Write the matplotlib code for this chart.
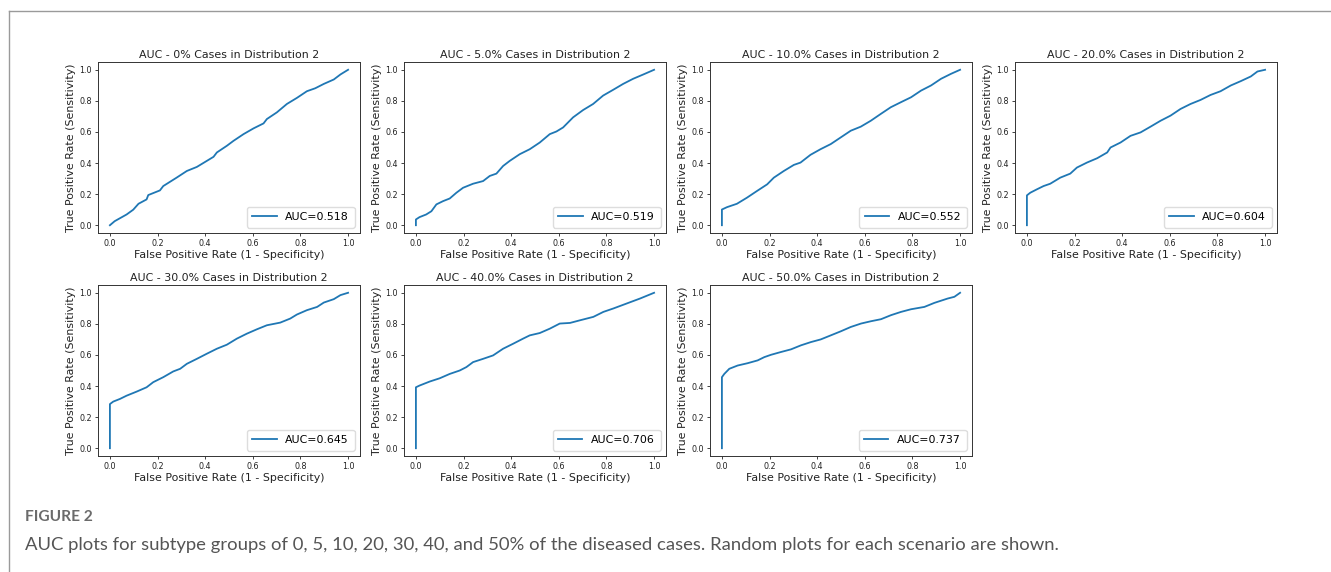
import numpy as np
import matplotlib
matplotlib.use("Agg")
import matplotlib.pyplot as plt
from matplotlib.lines import Line2D

# panel titles / AUC labels
titles = ["AUC - 0% Cases in Distribution 2",
          "AUC - 5.0% Cases in Distribution 2",
          "AUC - 10.0% Cases in Distribution 2",
          "AUC - 20.0% Cases in Distribution 2",
          "AUC - 30.0% Cases in Distribution 2",
          "AUC - 40.0% Cases in Distribution 2",
          "AUC - 50.0% Cases in Distribution 2"]
auc_vals = [0.518, 0.519, 0.552, 0.604, 0.645, 0.706, 0.737]

# ROC curves (fpr, tpr)
fpr_0 = [0, 0.02, 0.07, 0.098, 0.12, 0.154, 0.161, 0.21, 0.224, 0.28, 0.323, 0.365, 0.407,
         0.435, 0.449, 0.491, 0.519, 0.561, 0.603, 0.645, 0.659, 0.701, 0.743, 0.785, 0.827,
         0.862, 0.898, 0.94, 0.968, 1.0]
tpr_0 = [0, 0.026, 0.069, 0.10, 0.138, 0.166, 0.194, 0.224, 0.252, 0.306, 0.349, 0.375, 0.414,
         0.44, 0.468, 0.511, 0.543, 0.586, 0.623, 0.655, 0.683, 0.726, 0.78, 0.819, 0.862,
         0.881, 0.909, 0.9375, 0.97, 1.0]

fpr_5 = [0, 0, 0.015, 0.043, 0.065, 0.086, 0.114, 0.142, 0.17, 0.198, 0.24, 0.282, 0.31, 0.338,
         0.366, 0.394, 0.436, 0.478, 0.52, 0.562, 0.59, 0.618, 0.66, 0.702, 0.744, 0.786, 0.828,
         0.87, 0.912, 0.955, 1.0]
tpr_5 = [0, 0.037, 0.052, 0.069, 0.09, 0.134, 0.155, 0.172, 0.209, 0.241, 0.267, 0.284, 0.317,
         0.332, 0.381, 0.414, 0.457, 0.489, 0.532, 0.586, 0.603, 0.629, 0.694, 0.741, 0.78, 0.834,
         0.871, 0.909, 0.942, 0.97, 1.0]

fpr_10 = [0, 0, 0.021, 0.063, 0.105, 0.147, 0.19, 0.218, 0.26, 0.302, 0.33, 0.372, 0.414, 0.457,
          0.499, 0.541, 0.583, 0.625, 0.667, 0.709, 0.751, 0.794, 0.836, 0.878, 0.92, 0.962, 1.0]
tpr_10 = [0, 0.101, 0.116, 0.138, 0.177, 0.22, 0.263, 0.306, 0.349, 0.388, 0.403, 0.453, 0.489,
          0.522, 0.565, 0.608, 0.634, 0.672, 0.716, 0.759, 0.791, 0.823, 0.866, 0.899, 0.942,
          0.974, 1.0]

fpr_20 = [0, 0, 0.014, 0.042, 0.07, 0.098, 0.14, 0.182, 0.21, 0.252, 0.295, 0.337, 0.351, 0.393,
          0.435, 0.477, 0.519, 0.561, 0.603, 0.645, 0.687, 0.729, 0.771, 0.813, 0.856, 0.898,
          0.94, 0.968, 1.0]
tpr_20 = [0, 0.192, 0.209, 0.231, 0.252, 0.267, 0.306, 0.332, 0.371, 0.403, 0.431, 0.468, 0.5,
          0.532, 0.575, 0.597, 0.634, 0.672, 0.705, 0.748, 0.78, 0.806, 0.838, 0.862, 0.899,
          0.927, 0.957, 0.989, 1.0]

fpr_30 = [0, 0, 0.014, 0.042, 0.07, 0.112, 0.154, 0.182, 0.224, 0.266, 0.295, 0.323, 0.365, 0.407,
          0.449, 0.491, 0.533, 0.575, 0.617, 0.659, 0.715, 0.757, 0.785, 0.827, 0.87, 0.898,
          0.94, 0.968, 1.0]
tpr_30 = [0, 0.284, 0.3, 0.317, 0.338, 0.364, 0.392, 0.425, 0.457, 0.494, 0.511, 0.543, 0.575,
          0.608, 0.64, 0.666, 0.705, 0.737, 0.765, 0.791, 0.808, 0.834, 0.86, 0.888, 0.909,
          0.937, 0.959, 0.985, 1.0]

fpr_40 = [0, 0, 0.015, 0.058, 0.1, 0.142, 0.184, 0.212, 0.24, 0.282, 0.324, 0.366, 0.408, 0.45,
          0.478, 0.52, 0.562, 0.604, 0.647, 0.689, 0.745, 0.787, 0.829, 0.885, 0.941, 1.0]
tpr_40 = [0, 0.392, 0.403, 0.429, 0.45, 0.478, 0.5, 0.522, 0.554, 0.575, 0.597, 0.64, 0.672,
          0.705, 0.726, 0.741, 0.769, 0.802, 0.806, 0.823, 0.845, 0.877, 0.899, 0.931, 0.963, 1.0]

fpr_50 = [0, 0, 0.01, 0.031, 0.066, 0.108, 0.15, 0.178, 0.206, 0.248, 0.29, 0.332, 0.374, 0.415,
          0.457, 0.499, 0.541, 0.584, 0.626, 0.668, 0.71, 0.752, 0.794, 0.85, 0.892, 0.948,
          0.976, 1.0]
tpr_50 = [0, 0.457, 0.478, 0.511, 0.532, 0.547, 0.565, 0.586, 0.601, 0.619, 0.636, 0.662, 0.683,
          0.7, 0.726, 0.752, 0.78, 0.802, 0.817, 0.83, 0.856, 0.877, 0.894, 0.909, 0.935, 0.963,
          0.974, 1.0]

fprs = [fpr_0, fpr_5, fpr_10, fpr_20, fpr_30, fpr_40, fpr_50]
tprs = [tpr_0, tpr_5, tpr_10, tpr_20, tpr_30, tpr_40, tpr_50]

caption_head = "FIGURE 2"
caption = ("AUC plots for subtype groups of 0, 5, 10, 20, 30, 40, and 50% of the diseased cases. "
           "Random plots for each scenario are shown.")

W, H = 1331, 572
fig = plt.figure(figsize=(W / 100, H / 100), dpi=100)

# page frame (top and left rule)
fig.add_artist(Line2D([9 / W, 1], [1 - 11 / H, 1 - 11 / H], color="#9a9a9a", lw=1.0))
fig.add_artist(Line2D([9 / W, 9 / W], [0, 1 - 11 / H], color="#9a9a9a", lw=1.0))

lefts = [98, 404, 710, 1015]
row_tops = [62, 285]
ax_w, ax_h = 262, 171

for i in range(7):
    r, c = divmod(i, 4)
    x0 = lefts[c] / W
    y0 = 1 - (row_tops[r] + ax_h) / H
    ax = fig.add_axes([x0, y0, ax_w / W, ax_h / H])
    ax.plot(fprs[i], tprs[i], color="#1f77b4", lw=1.3, label=f"AUC={auc_vals[i]}")
    ax.set_xlim(-0.05, 1.05)
    ax.set_ylim(-0.05, 1.05)
    ax.set_xticks([0, 0.2, 0.4, 0.6, 0.8, 1.0])
    ax.set_yticks([0, 0.2, 0.4, 0.6, 0.8, 1.0])
    ax.tick_params(labelsize=5.8, length=2.5, width=0.6, pad=2, colors="#222222")
    for s in ax.spines.values():
        s.set_linewidth(0.7)
        s.set_color("#333333")
    ax.set_title(titles[i], fontsize=7.9, pad=3, color="#222222")
    ax.set_xlabel("False Positive Rate (1 - Specificity)", fontsize=7.9, labelpad=1.5,
                  color="#222222")
    ax.set_ylabel("True Positive Rate (Sensitivity)", fontsize=7.9, labelpad=2,
                  color="#222222")
    ax.legend(loc="lower right", fontsize=7.9, handlelength=2.2, borderpad=0.5,
              framealpha=1, edgecolor="#dddddd", fancybox=True)

fig.text(25 / W, 1 - 517 / H, caption_head, fontsize=11.2, color="#6b6b6b",
         family="Lato", weight="bold", va="center", ha="left")
fig.text(25 / W, 1 - 545 / H, caption, fontsize=13.3, color="#555555",
         family="Lato", va="center", ha="left")

fig.savefig("out.png", dpi=100)
